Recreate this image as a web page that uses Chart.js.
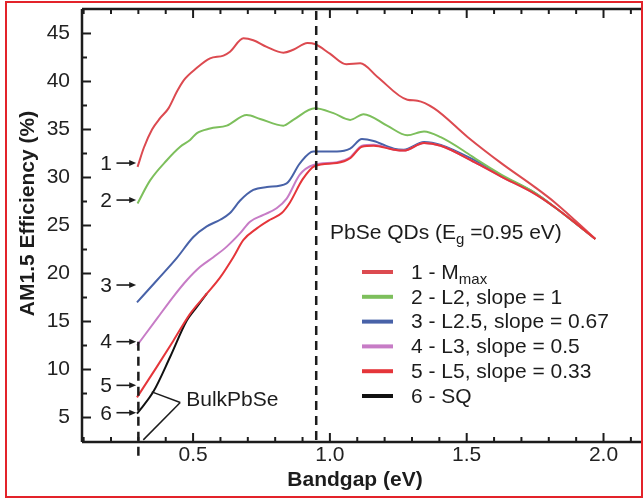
<!DOCTYPE html>
<html lang="en">
<head>
    <meta charset="UTF-8">
    <title>PbSe QD efficiency vs bandgap</title>
    <script src="https://cdn.jsdelivr.net/npm/chart.js"></script>
    <style>
        html, body { margin: 0; padding: 0; background: #fff; }
        canvas { display: block; }
    </style>
</head>
<body>
    <canvas id="effChart" width="644" height="500"></canvas>

    <script>
        // Data: bandgap (eV) and AM1.5 efficiency (%)
        const bandgapMmax = [0.297, 0.32, 0.35, 0.38, 0.41, 0.44, 0.465, 0.513, 0.562, 0.611, 0.635, 0.684, 0.72, 0.769, 0.83, 0.866, 0.918, 0.945, 1.0, 1.06, 1.111, 1.173, 1.283, 1.32, 1.381, 1.504, 1.626, 1.749, 1.822, 1.97];
        const effMmax     = [31.1, 33.1, 35.0, 36.2, 37.2, 38.9, 40.1, 41.4, 42.4, 42.7, 43.1, 44.5, 44.3, 43.6, 43.0, 43.3, 44.0, 43.9, 42.9, 41.8, 41.9, 40.5, 38.1, 38.0, 37.2, 34.2, 31.5, 29.0, 27.4, 23.6];

        const bandgapL2 = [0.297, 0.343, 0.404, 0.453, 0.489, 0.513, 0.562, 0.623, 0.696, 0.745, 0.83, 0.866, 0.945, 1.013, 1.074, 1.123, 1.209, 1.283, 1.344, 1.405, 1.504, 1.54, 1.626, 1.749, 1.822, 1.97];
        const effL2     = [27.3, 29.7, 31.8, 33.2, 33.9, 34.6, 35.1, 35.4, 36.5, 36.1, 35.4, 36.0, 37.2, 36.7, 36.0, 36.6, 35.4, 34.4, 34.8, 34.2, 32.5, 31.8, 30.3, 28.4, 26.9, 23.6];

        const bandgapL25 = [0.295, 0.368, 0.44, 0.501, 0.55, 0.599, 0.635, 0.672, 0.72, 0.77, 0.842, 0.891, 0.939, 1.026, 1.074, 1.117, 1.16, 1.234, 1.27, 1.344, 1.405, 1.528, 1.626, 1.749, 1.822, 1.97];
        const effL25     = [17.0, 19.3, 21.6, 23.8, 24.9, 25.6, 26.3, 27.6, 28.7, 29.0, 29.4, 31.5, 32.7, 32.7, 33.0, 34.0, 33.8, 33.0, 32.9, 33.7, 33.4, 31.8, 30.2, 28.4, 26.9, 23.6];

        const bandgapL3 = [0.295, 0.368, 0.428, 0.477, 0.526, 0.574, 0.623, 0.672, 0.708, 0.757, 0.805, 0.842, 0.89, 0.94, 1.026, 1.074, 1.117, 1.16, 1.234, 1.27, 1.344, 1.405, 1.528, 1.626, 1.749, 1.822, 1.97];
        const effL3     = [12.5, 15.3, 17.6, 19.3, 20.7, 21.7, 22.8, 24.2, 25.4, 26.1, 26.8, 27.8, 30.3, 31.3, 31.6, 32.1, 33.3, 33.4, 32.9, 32.8, 33.6, 33.3, 31.6, 30.1, 28.3, 26.9, 23.6];

        const bandgapL5 = [0.295, 0.368, 0.428, 0.489, 0.55, 0.599, 0.647, 0.684, 0.733, 0.781, 0.824, 0.854, 0.9, 0.945, 1.026, 1.074, 1.117, 1.16, 1.234, 1.27, 1.344, 1.405, 1.528, 1.626, 1.749, 1.822, 1.97];
        const effL5     = [7.1, 10.3, 13.0, 15.8, 17.9, 19.6, 21.7, 23.5, 24.7, 25.6, 26.3, 27.4, 29.8, 31.2, 31.5, 32.0, 33.2, 33.3, 32.9, 32.8, 33.6, 33.3, 31.6, 30.1, 28.3, 26.9, 23.6];

        const bandgapSQ = [0.295, 0.355, 0.416, 0.477, 0.513, 0.55];
        const effSQ     = [5.4, 7.7, 11.3, 15.1, 16.5, 17.9];

        const seriesLabels = ['1 - M_max', '2 - L2, slope = 1', '3 - L2.5, slope = 0.67', '4 - L3, slope = 0.5', '5 - L5, slope = 0.33', '6 - SQ'];
        const seriesColors = ['#dc4a50', '#7dbf5c', '#4862a8', '#c77cc6', '#e5353a', '#111111'];

        const xTickValues = [0.5, 1.0, 1.5, 2.0];
        const yTickValues = [5, 10, 15, 20, 25, 30, 35, 40, 45];

        // markers and annotations
        const qdGap = 0.95;
        const bulkGap = 0.3;
        const curveNumbers = ['1', '2', '3', '4', '5', '6'];
        const curveNumberLevels = [31.5, 27.65, 18.8, 12.9, 8.35, 5.5];
        const legendTitle = 'PbSe QDs (E_g =0.95 eV)';

        const FONT = "'Liberation Sans', Arial, Helvetica, sans-serif";

        function toPoints(xs, ys) {
            return xs.map((x, i) => ({ x: x, y: ys[i] }));
        }

        // draw text where "_abc" becomes a subscript
        function richText(ctx, text, x, y, size) {
            ctx.textAlign = 'left';
            ctx.textBaseline = 'middle';
            text.split(/(_\w+)/).forEach(part => {
                if (!part) return;
                const sub = part[0] === '_';
                const t = sub ? part.slice(1) : part;
                const s = sub ? Math.round(size * 0.72) : size;
                ctx.font = s + 'px ' + FONT;
                ctx.fillText(t, x, sub ? y + size * 0.32 : y);
                x += ctx.measureText(t).width;
            });
        }

        function segment(ctx, x1, y1, x2, y2) {
            ctx.beginPath();
            ctx.moveTo(x1, y1);
            ctx.lineTo(x2, y2);
            ctx.stroke();
        }

        const overlay = {
            id: 'overlay',
            afterDatasetsDraw(chart) {
                const { ctx, chartArea: a, scales: { x, y } } = chart;
                ctx.save();
                ctx.strokeStyle = '#1c1c1c';
                ctx.fillStyle = '#1c1c1c';

                // dashed band gap markers
                ctx.lineWidth = 2.5;
                ctx.setLineDash([9, 6]);
                const xq = x.getPixelForValue(qdGap);
                segment(ctx, xq, a.top + 2, xq, a.bottom);
                const xb = x.getPixelForValue(bulkGap);
                segment(ctx, xb, y.getPixelForValue(curveNumberLevels[3]), xb, a.bottom + 14);
                ctx.setLineDash([]);

                // frame with inward ticks
                ctx.lineWidth = 2.5;
                segment(ctx, a.left, a.top, a.right, a.top);
                segment(ctx, a.left, a.top, a.left, a.bottom);
                segment(ctx, a.left, a.bottom, a.right, a.bottom);
                ctx.lineWidth = 2;
                for (let i = 1; i <= 21; i++) {
                    const px = x.getPixelForValue(i / 10);
                    const len = i % 5 === 0 ? 9 : 5;
                    segment(ctx, px, a.bottom, px, a.bottom - len);
                    segment(ctx, px, a.top, px, a.top + len);
                }
                for (let i = 2; i <= 18; i++) {
                    const py = y.getPixelForValue(i * 2.5);
                    const len = i % 2 === 0 ? 9 : 5;
                    segment(ctx, a.left, py, a.left + len, py);
                }

                // numbered arrows on the left
                ctx.lineWidth = 1.6;
                const ax1 = x.getPixelForValue(0.22);
                const ax2 = x.getPixelForValue(0.292);
                const tx = x.getPixelForValue(0.182);
                curveNumbers.forEach((n, i) => {
                    const py = y.getPixelForValue(curveNumberLevels[i]);
                    segment(ctx, ax1, py, ax2 - 4, py);
                    ctx.beginPath();
                    ctx.moveTo(ax2, py);
                    ctx.lineTo(ax2 - 7, py - 3);
                    ctx.lineTo(ax2 - 7, py + 3);
                    ctx.closePath();
                    ctx.fill();
                    ctx.font = '21px ' + FONT;
                    ctx.textAlign = 'center';
                    ctx.textBaseline = 'middle';
                    ctx.fillText(n, tx, py + 1);
                });

                // BulkPbSe callout
                ctx.lineWidth = 1.5;
                const hx = x.getPixelForValue(0.453), hy = y.getPixelForValue(6.56);
                segment(ctx, hx, hy, x.getPixelForValue(0.349), y.getPixelForValue(7.67));
                segment(ctx, hx, hy, x.getPixelForValue(0.318), y.getPixelForValue(2.67));
                ctx.font = '21px ' + FONT;
                ctx.textAlign = 'left';
                ctx.textBaseline = 'middle';
                ctx.fillText('BulkPbSe', hx + 6, hy - 2);

                // legend
                ctx.fillStyle = '#1c1c1c';
                richText(ctx, legendTitle, 330, 233, 21);
                chart.data.datasets.forEach((ds, i) => {
                    const ry = 272 + i * 24.8;
                    ctx.strokeStyle = ds.borderColor;
                    ctx.lineWidth = 4;
                    segment(ctx, 362, ry, 393, ry);
                    ctx.fillStyle = '#1c1c1c';
                    richText(ctx, ds.label, 411, ry + 1, 21);
                });

                // axis titles
                ctx.fillStyle = '#1c1c1c';
                ctx.font = 'bold 21px ' + FONT;
                ctx.textAlign = 'center';
                ctx.textBaseline = 'middle';
                ctx.fillText('Bandgap (eV)', 355, 480);
                ctx.save();
                ctx.translate(28, 213.5);
                ctx.rotate(-Math.PI / 2);
                ctx.fillText('AM1.5 Efficiency (%)', 0, 0);
                ctx.restore();

                ctx.restore();
            },
            afterDraw(chart) {
                const ctx = chart.ctx;
                ctx.save();
                ctx.strokeStyle = '#e3232a';
                ctx.lineWidth = 2;
                ctx.strokeRect(6, 2, 636, 495);
                ctx.restore();
            }
        };

        // no label overhang padding: the frame is placed by layout.padding
        function noOverhang(s) {
            s.paddingTop = 0;
            s.paddingBottom = 0;
            s.paddingLeft = 0;
            s.paddingRight = 0;
        }

        const allX = [bandgapMmax, bandgapL2, bandgapL25, bandgapL3, bandgapL5, bandgapSQ];
        const allY = [effMmax, effL2, effL25, effL3, effL5, effSQ];
        const drawOrder = [1, 2, 4, 3, 0, 5];

        const ctx = document.getElementById('effChart').getContext('2d');
        const effChart = new Chart(ctx, {
            type: 'line',
            data: {
                datasets: seriesLabels.map((label, i) => ({
                    label: label,
                    data: toPoints(allX[i], allY[i]),
                    borderColor: seriesColors[i],
                    borderWidth: 2,
                    pointRadius: 0,
                    fill: false,
                    cubicInterpolationMode: 'monotone',
                    order: drawOrder[i]
                }))
            },
            options: {
                responsive: false,
                animation: false,
                layout: { padding: { top: 9, right: 3, left: 0, bottom: 0 } },
                plugins: {
                    legend: { display: false },
                    tooltip: { enabled: false }
                },
                scales: {
                    x: {
                        type: 'linear',
                        min: 0.094,
                        max: 2.137,
                        grid: { display: false, drawTicks: false },
                        border: { display: false },
                        afterBuildTicks: s => { s.ticks = xTickValues.map(v => ({ value: v })); },
                        afterFit: s => { s.height = 58; noOverhang(s); },
                        ticks: {
                            font: { family: FONT, size: 21 },
                            color: '#222',
                            padding: 1,
                            maxRotation: 0,
                            callback: v => v.toFixed(1)
                        }
                    },
                    y: {
                        min: 2.45,
                        max: 47.55,
                        grid: { display: false, drawTicks: false },
                        border: { display: false },
                        afterBuildTicks: s => { s.ticks = yTickValues.map(v => ({ value: v })); },
                        afterFit: s => { s.width = 82; noOverhang(s); },
                        ticks: {
                            font: { family: FONT, size: 21 },
                            color: '#222',
                            padding: 12,
                            callback: v => String(v)
                        }
                    }
                }
            },
            plugins: [overlay]
        });
    </script>
</body>
</html>
